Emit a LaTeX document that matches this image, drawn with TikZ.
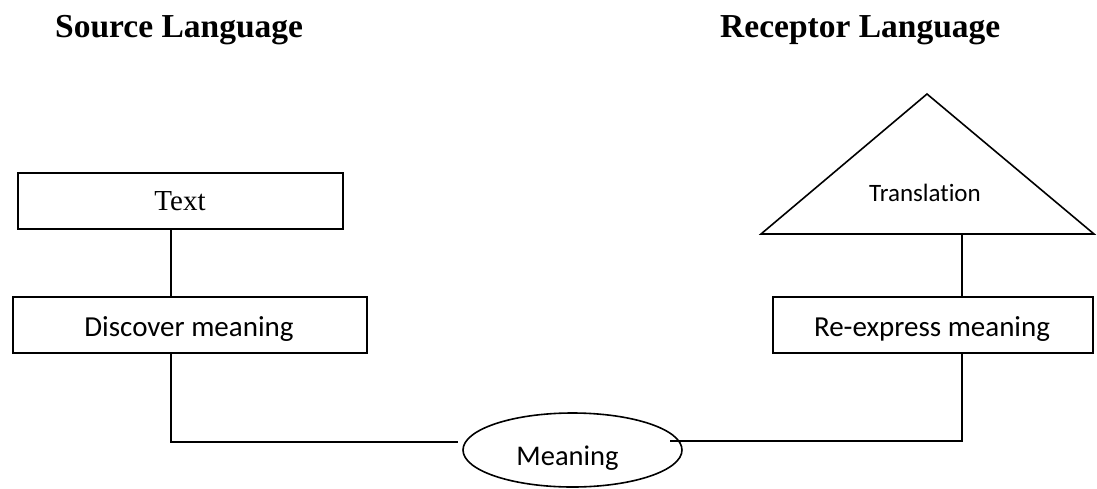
\documentclass[tikz,border=0pt]{standalone}
\usepackage{fontspec}
\setmainfont{Carlito}[Ligatures=NoCommon]
\newfontfamily\serifface{Liberation Serif}
\usetikzlibrary{shapes.geometric}
\begin{document}
\begin{tikzpicture}[x=1pt,y=-1pt,
  ln/.style={line width=1.6pt},
  boxst/.style={draw,line width=1.6pt,inner sep=0pt,anchor=north west},
  title/.style={anchor=base west,inner sep=0pt,font=\serifface\bfseries\fontsize{33.5}{40}\selectfont},
  lab/.style={anchor=base,inner sep=0pt,font=\fontsize{29}{34}\selectfont}]
\useasboundingbox (0,0) rectangle (1097,488);
% titles
\node[title] (src) at (55,37) {Source Language};
\node[title] (rec) at (720,37) {Receptor Language};
% boxes
\node[boxst,minimum width=325pt,minimum height=56pt] (textbox) at (17,172) {};
\node[anchor=base,inner sep=0pt,font=\serifface\fontsize{29}{34}\selectfont] (textlab) at (180,210) {Text};
\node[boxst,minimum width=354pt,minimum height=56pt] (disc) at (12,296) {};
\node[lab] (disclab) at (189,336) {Discover meaning};
\node[boxst,minimum width=320pt,minimum height=56pt] (reex) at (772,296) {};
\node[lab] (reexlab) at (932,336) {Re-express meaning};
% triangle
\coordinate (tapex) at (927,94);
\coordinate (tl) at (761,234);
\coordinate (tr) at (1094,234);
\draw[ln,line join=miter] (tl) -- (tapex) -- (tr) -- cycle;
\node[anchor=base,inner sep=0pt,font=\fontsize{25}{30}\selectfont] (trans) at (925,201) {Translation};
% ellipse
\node[draw,ellipse,line width=1.6pt,minimum width=219pt,minimum height=74pt,inner sep=0pt] (ell) at (572.5,450) {};
\node[anchor=base,inner sep=0pt,font=\fontsize{28.5}{34}\selectfont] (meanlab) at (567.5,465) {Meaning};
% connectors
\coordinate (lx) at (171,0);
\coordinate (rx) at (962,0);
\coordinate (lend) at (458,442);
\coordinate (rend) at (670,441);
\draw[ln] (textbox.south -| lx) -- (disc.north -| lx);
\draw[ln] (tl -| rx) -- (reex.north -| rx);
\draw[ln] (disc.south -| lx) |- (lend);
\draw[ln] (reex.south -| rx) |- (rend);
\end{tikzpicture}
\end{document}
